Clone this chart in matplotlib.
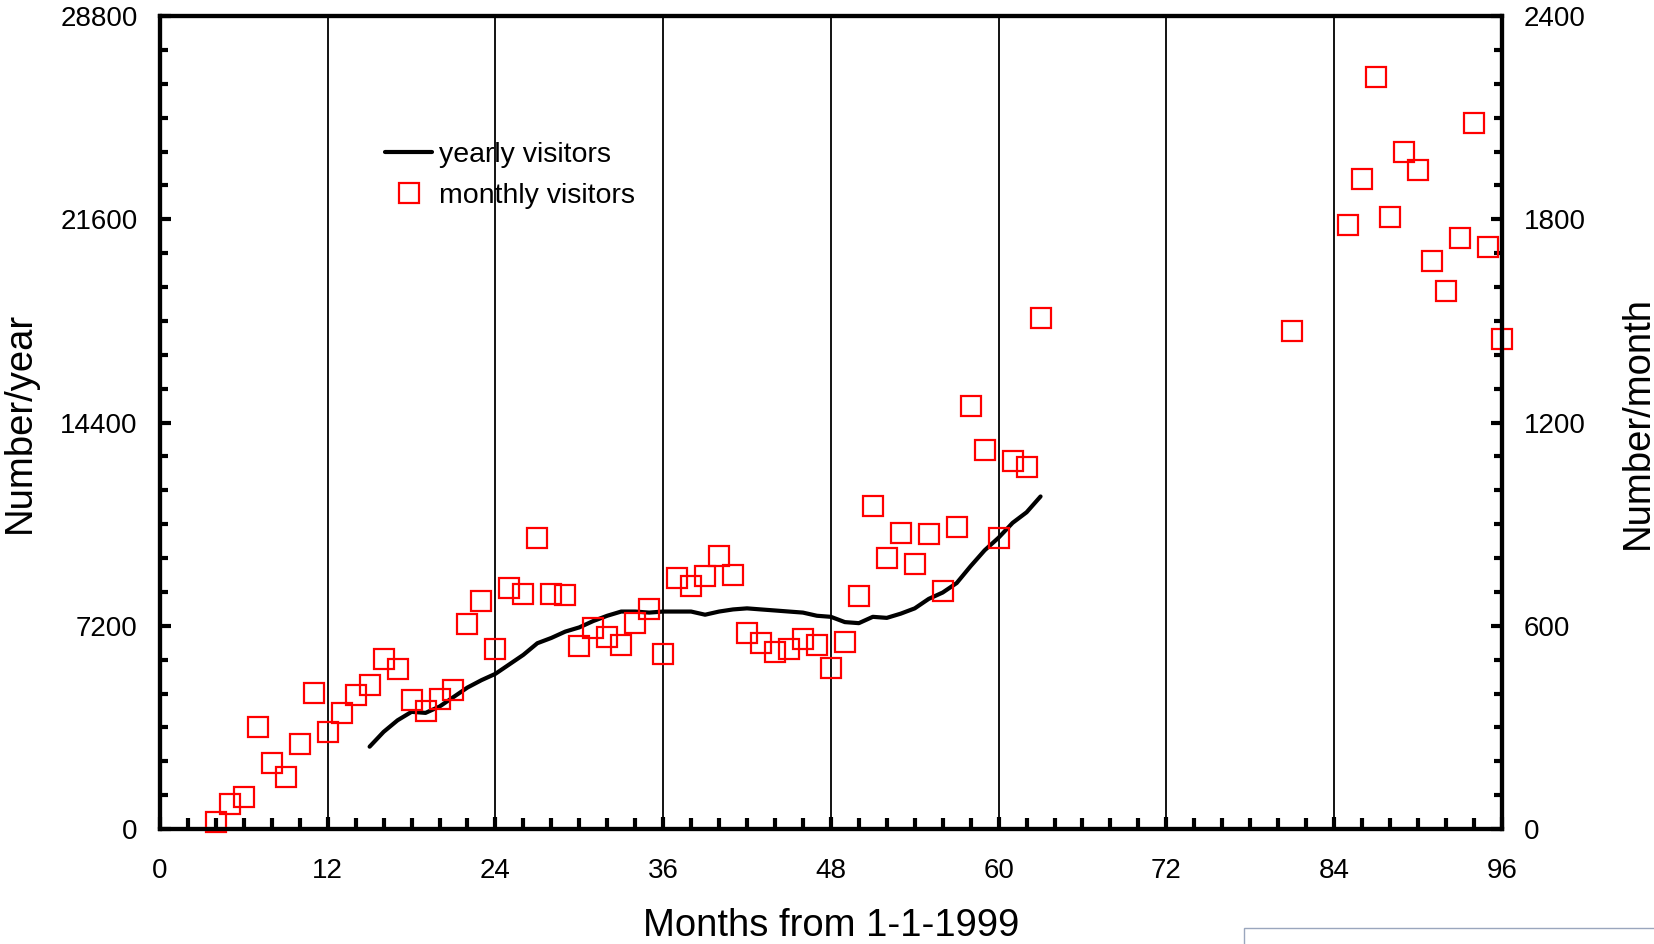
import numpy as np
import matplotlib.pyplot as plt
from matplotlib.ticker import MultipleLocator
from matplotlib.patches import Rectangle

plt.rcParams['font.family'] = ['Liberation Sans', 'DejaVu Sans']

# monthly visitors (right axis), months from 1-1-1999
month_a = list(range(4, 64))
monthly_a = [20, 75, 94, 302, 196, 153, 252, 402, 287, 343, 396, 424,
             502, 471, 380, 349, 383, 411, 605, 673, 530, 711, 695, 860,
             695, 692, 539, 592, 567, 542, 608, 651, 517, 742, 717, 748,
             807, 751, 580, 549, 524, 530, 561, 542, 474, 552, 689, 954,
             801, 873, 782, 870, 704, 891, 1250, 1119, 860, 1085, 1069, 1509]
month_b = [81] + list(range(85, 97))
monthly_b = [1471, 1783, 1920, 2219, 1808, 1998, 1945, 1677, 1587, 1746,
             2085, 1717, 1446]
months_m = month_a + month_b
monthly = monthly_a + monthly_b

# yearly visitors (left axis)
months_y = list(range(15, 64))
yearly = [2917, 3441, 3852, 4151, 4114, 4338, 4675, 5012, 5273, 5498,
          5834, 6171, 6582, 6769, 6994, 7143, 7368, 7555, 7704, 7704,
          7667, 7704, 7704, 7704, 7592, 7704, 7779, 7817, 7779, 7742,
          7704, 7667, 7555, 7517, 7330, 7293, 7517, 7480, 7630, 7817,
          8153, 8378, 8714, 9313, 9874, 10322, 10846, 11220, 11781]

fig = plt.figure(figsize=(16.54, 9.44), dpi=100)
ax = fig.add_axes([0.0967, 0.1218, 0.8113, 0.8612])
ax2 = ax.twinx()

for a in (ax, ax2):
    for s in a.spines.values():
        s.set_linewidth(3)

ln, = ax.plot(months_y, yearly, color='black', lw=3, label='yearly visitors',
              solid_capstyle='round', zorder=3)
sq, = ax2.plot(months_m, monthly, ls='', marker='s', ms=14.5, mfc='none',
               mec='red', mew=1.6, label='monthly visitors', clip_on=False)

ax.set_xlim(0, 96)
ax.set_ylim(0, 28800)
ax2.set_ylim(0, 2400)

ax.xaxis.set_major_locator(MultipleLocator(12))
ax.xaxis.set_minor_locator(MultipleLocator(2))
ax.yaxis.set_major_locator(MultipleLocator(7200))
ax.yaxis.set_minor_locator(MultipleLocator(1200))
ax2.yaxis.set_major_locator(MultipleLocator(600))
ax2.yaxis.set_minor_locator(MultipleLocator(100))

ax.grid(axis='x', which='major', color='black', lw=1.3)
ax.set_axisbelow(True)

ax.tick_params(axis='x', which='major', direction='in', length=9, width=3,
               labelsize=20, pad=21)
ax.tick_params(axis='x', which='minor', direction='in', length=8, width=3)
ax.tick_params(axis='y', which='major', direction='in', length=8, width=3,
               labelsize=20, pad=16)
ax.tick_params(axis='y', which='minor', direction='in', length=6, width=3)
ax2.tick_params(axis='y', which='major', direction='in', length=8, width=3,
                labelsize=20, pad=16)
ax2.tick_params(axis='y', which='minor', direction='in', length=6, width=3)

ax.set_xlabel('Months from 1-1-1999', fontsize=27.5, labelpad=17)
ax.set_ylabel('Number/year', fontsize=27.5, labelpad=16)
ax2.set_ylabel('Number/month', fontsize=27.5, labelpad=24)

ax.legend(handles=[ln, sq], loc='upper left', bbox_to_anchor=(0.168, 0.845),
          frameon=False, fontsize=20.5, handlelength=1.65, handletextpad=0.22,
          labelspacing=0.53, borderpad=0, borderaxespad=0)

fig.patches.append(Rectangle((0.752, -0.1), 0.3, 0.117, transform=fig.transFigure,
                             fill=False, edgecolor='#9aa6bd', lw=1))

fig.savefig('out.png', dpi=100)
